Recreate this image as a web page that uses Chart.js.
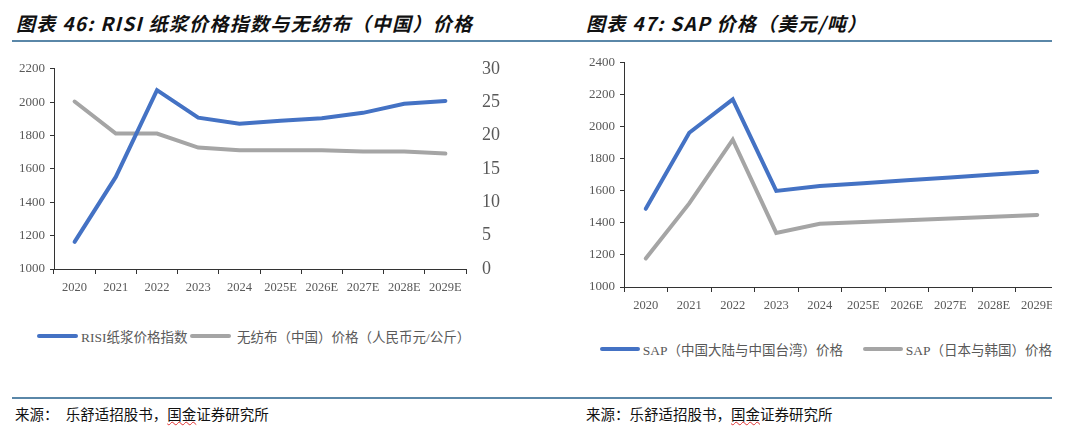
<!DOCTYPE html>
<html lang="zh">
<head>
<meta charset="UTF-8">
<title>RISI / SAP</title>
<script src="https://cdn.jsdelivr.net/npm/chart.js"></script>
<style>
    body { margin: 0; width: 1080px; height: 428px; background: #fff; position: relative; overflow: hidden;
           font-family: "Liberation Serif", "Noto Sans CJK SC", serif; }
    .title { position: absolute; top: 9px; font-family: "Noto Sans CJK SC", sans-serif; font-weight: bold;
             font-style: italic; font-size: 19px; letter-spacing: 1.3px; color: #111; white-space: nowrap; }
    .rule { position: absolute; height: 1.5px; background: #5a87a8; }
    .box { position: absolute; }
    .legend { position: absolute; font-size: 13.5px; color: #595959; white-space: nowrap; display: flex; align-items: center; }
    .legend i { display: inline-block; width: 41px; height: 4px; border-radius: 2px; margin-right: 3px; }
    .src { position: absolute; top: 403px; font-size: 14.5px; color: #111; white-space: nowrap; }
    .wavy { text-decoration: underline wavy #e03030; text-decoration-thickness: 1px; }
</style>
</head>
<body>
    <div class="title" style="left:16px">图表 46: RISI 纸浆价格指数与无纺布（中国）价格</div>
    <div class="title" style="left:586px">图表 47: SAP 价格（美元/吨）</div>
    <div class="rule" style="left:12px; width:1040px; top:40px"></div>

    <div class="box" style="left:0; top:50px; width:500px; height:250px">
        <canvas id="pulpChart"></canvas>
    </div>
    <div class="box" style="left:560px; top:50px; width:492px; height:268px; overflow:hidden">
        <div style="width:500px; height:268px"><canvas id="sapChart"></canvas></div>
    </div>

    <div class="legend" style="left:37px; top:326px">
        <i style="background:#4472C4"></i><span>RISI纸浆价格指数</span>
        <i style="background:#A5A5A5; margin-left:2px"></i><span>&nbsp;无纺布（中国）价格（人民币元/公斤）</span>
    </div>
    <div class="legend" style="left:600px; top:339px; width:452px; overflow:hidden">
        <i style="background:#4472C4"></i><span>SAP（中国大陆与中国台湾）价格</span>
        <i style="background:#A5A5A5; margin-left:20px"></i><span>SAP（日本与韩国）价格</span>
    </div>

    <div class="rule" style="left:12px; width:1040px; top:397px"></div>
    <div class="src" style="left:15px">来源：&nbsp;&nbsp;乐舒适招股书，<span class="wavy">国金</span>证券研究所</div>
    <div class="src" style="left:586px">来源：乐舒适招股书，<span class="wavy">国金</span>证券研究所</div>

<script>
    const years = ['2020', '2021', '2022', '2023', '2024', '2025E', '2026E', '2027E', '2028E', '2029E'];

    // chart 46
    const risiIndex = [1163, 1552, 2072, 1907, 1871, 1888, 1903, 1936, 1990, 2007];
    const nonwovenPrice = [25.1, 20.3, 20.3, 18.2, 17.8, 17.8, 17.8, 17.6, 17.6, 17.3];

    // chart 47
    const sapChina = [1488, 1963, 2172, 1600, 1630, 1648, 1666, 1684, 1702, 1720];
    const sapJapanKorea = [1178, 1522, 1920, 1338, 1395, 1406, 1417, 1428, 1439, 1450];

    const labelColor = '#595959';
    const axisColor = '#333';

    function line(data, color, axis) {
        return { data: data, borderColor: color, borderWidth: 4, pointRadius: 0, tension: 0,
                 fill: false, yAxisID: axis, borderCapStyle: 'round' };
    }

    function xScale(height) {
        return {
            offset: true,
            grid: { offset: true, drawOnChartArea: false, drawTicks: true, tickLength: 5, color: axisColor },
            border: { color: axisColor, width: 1 },
            ticks: { color: labelColor, font: { family: 'Liberation Serif', size: 12.5 }, padding: 6, maxRotation: 0, autoSkip: false },
            afterFit: s => { s.height = height; }
        };
    }

    function yScale(min, max, step, width) {
        return {
            min: min, max: max,
            ticks: { stepSize: step, color: labelColor, font: { family: 'Liberation Serif', size: 13 }, padding: 5,
                     callback: v => String(v) },
            grid: { drawOnChartArea: false, drawTicks: true, tickLength: 4, color: axisColor },
            border: { color: axisColor, width: 1 },
            afterFit: s => { s.width = width; }
        };
    }

    const common = {
        responsive: true,
        maintainAspectRatio: false,
        animation: false,
        events: [],
        plugins: { legend: { display: false }, tooltip: { enabled: false } }
    };

    new Chart(document.getElementById('pulpChart'), {
        type: 'line',
        data: {
            labels: years,
            datasets: [line(risiIndex, '#4472C4', 'y'), line(nonwovenPrice, '#A5A5A5', 'y2')]
        },
        options: Object.assign({}, common, {
            layout: { padding: { top: 11, right: 0, left: 0, bottom: 0 } },
            scales: {
                x: xScale(31),
                y: yScale(1000, 2200, 200, 54),
                y2: {
                    position: 'right',
                    min: 0, max: 30,
                    ticks: { stepSize: 5, color: labelColor, font: { family: 'Liberation Serif', size: 18 }, padding: 8 },
                    grid: { display: false },
                    border: { display: false },
                    afterFit: s => { s.width = 34; }
                }
            }
        })
    });

    new Chart(document.getElementById('sapChart'), {
        type: 'line',
        data: {
            labels: years,
            datasets: [line(sapChina, '#4472C4', 'y'), line(sapJapanKorea, '#A5A5A5', 'y')]
        },
        options: Object.assign({}, common, {
            layout: { padding: { top: 12, right: 1, left: 0, bottom: 0 } },
            scales: {
                x: xScale(31),
                y: yScale(1000, 2400, 200, 64)
            }
        })
    });
</script>
</body>
</html>
